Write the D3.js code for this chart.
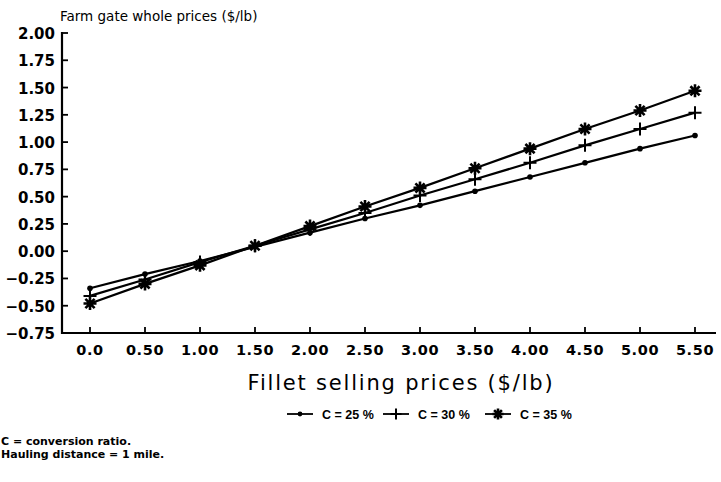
<!DOCTYPE html>
<html>
<head>
<meta charset="utf-8">
<script src="https://cdn.jsdelivr.net/npm/d3@7"></script>
<style>
  body { margin: 0; background: #fff; }
  text { font-family: "DejaVu Sans", Verdana, sans-serif; fill: #000; }
</style>
</head>
<body>
<div id="chart"></div>
<script>
// Data
const prices = [0, 0.5, 1, 1.5, 2, 2.5, 3, 3.5, 4, 4.5, 5, 5.5];
const xTickLabels = ["0.0", "0.50", "1.00", "1.50", "2.00", "2.50", "3.00", "3.50", "4.00", "4.50", "5.00", "5.50"];
const yTicks = [2.00, 1.75, 1.50, 1.25, 1.00, 0.75, 0.50, 0.25, 0.00, -0.25, -0.50, -0.75];
const c25 = [-0.34, -0.21, -0.09, 0.04, 0.17, 0.30, 0.42, 0.55, 0.68, 0.81, 0.94, 1.06];
const c30 = [-0.41, -0.26, -0.10, 0.05, 0.20, 0.35, 0.51, 0.66, 0.81, 0.97, 1.12, 1.27];
const c35 = [-0.48, -0.30, -0.13, 0.05, 0.23, 0.41, 0.58, 0.76, 0.94, 1.12, 1.29, 1.47];
const seriesNames = ["C = 25 %", "C = 30 %", "C = 35 %"];
const markers = ["dot", "plus", "star"];

const W = 721, H = 482;
const svg = d3.select("#chart").append("svg")
    .attr("width", W).attr("height", H);

const x = d3.scaleLinear().domain([0, 5.5]).range([90, 695]);
const y = d3.scaleLinear().domain([-0.75, 2.0]).range([333, 33]);
const axisLeftX = 62;

// Y axis
svg.append("line")
    .attr("x1", axisLeftX).attr("x2", axisLeftX)
    .attr("y1", y(2.0) - 1).attr("y2", y(-0.75) + 1)
    .attr("stroke", "#000").attr("stroke-width", 2.2);
svg.selectAll(".ytick").data(yTicks).enter().append("line")
    .attr("x1", axisLeftX).attr("x2", axisLeftX + 6)
    .attr("y1", d => y(d)).attr("y2", d => y(d))
    .attr("stroke", "#000").attr("stroke-width", 1.8);
svg.selectAll(".ylab").data(yTicks).enter().append("text")
    .attr("x", axisLeftX - 7).attr("y", d => y(d) + 6)
    .attr("text-anchor", "end")
    .attr("font-size", 15).attr("font-weight", "bold")
    .text(d => d3.format(".2f")(d));

// X axis
svg.append("line")
    .attr("x1", axisLeftX - 1).attr("x2", 716)
    .attr("y1", y(-0.75)).attr("y2", y(-0.75))
    .attr("stroke", "#000").attr("stroke-width", 2.2);
svg.selectAll(".xtick").data(prices).enter().append("line")
    .attr("x1", d => x(d)).attr("x2", d => x(d))
    .attr("y1", y(-0.75)).attr("y2", y(-0.75) - 6)
    .attr("stroke", "#000").attr("stroke-width", 1.8);
svg.selectAll(".xlab").data(prices).enter().append("text")
    .attr("x", d => x(d)).attr("y", 355)
    .attr("text-anchor", "middle")
    .attr("font-size", 14.5).attr("font-weight", "bold")
    .attr("letter-spacing", 0.6)
    .text((d, i) => xTickLabels[i]);

// Titles
svg.append("text")
    .attr("x", 60).attr("y", 21)
    .attr("font-size", 13.5)
    .text("Farm gate whole prices ($/lb)");
svg.append("text")
    .attr("x", 401).attr("y", 390)
    .attr("text-anchor", "middle")
    .attr("font-size", 21)
    .attr("letter-spacing", 1.8)
    .text("Fillet selling prices ($/lb)");

// Marker drawing
function drawMarker(g, type, cx, cy, s) {
    if (type === "dot") {
        g.append("circle").attr("cx", cx).attr("cy", cy).attr("r", 2.8 * s).attr("fill", "#000");
    } else if (type === "plus") {
        const r = 6.5 * s;
        g.append("path")
            .attr("d", `M${cx - r},${cy}H${cx + r}M${cx},${cy - r}V${cy + r}`)
            .attr("stroke", "#000").attr("stroke-width", 2);
    } else {
        const r = 6.5 * s;
        let d = "";
        for (let k = 0; k < 4; k++) {
            const a = k * Math.PI / 4;
            d += `M${cx - r * Math.cos(a)},${cy - r * Math.sin(a)}L${cx + r * Math.cos(a)},${cy + r * Math.sin(a)}`;
        }
        g.append("path").attr("d", d).attr("stroke", "#000").attr("stroke-width", 2.6);
    }
}

// Lines
const lineGen = d3.line().x((d, i) => x(prices[i])).y(d => y(d));
[c25, c30, c35].forEach((vals, si) => {
    const g = svg.append("g");
    g.append("path").datum(vals)
        .attr("d", lineGen)
        .attr("fill", "none").attr("stroke", "#000").attr("stroke-width", 2.2);
    vals.forEach((v, i) => drawMarker(g, markers[si], x(prices[i]), y(v), 1));
});

// Legend
const legendX = [287, 383, 485];
seriesNames.forEach((name, i) => {
    const g = svg.append("g");
    const lx = legendX[i], ly = 414;
    g.append("line").attr("x1", lx).attr("x2", lx + 26).attr("y1", ly).attr("y2", ly)
        .attr("stroke", "#000").attr("stroke-width", 1.8);
    drawMarker(g, markers[i], lx + 13, ly, 0.85);
    g.append("text").attr("x", lx + 35).attr("y", ly + 4.5)
        .style("font-family", "'Liberation Sans', Arial, sans-serif")
        .attr("font-size", 12.5).attr("font-weight", "bold")
        .text(name);
});

// Footnotes
svg.append("text").attr("x", 1).attr("y", 445)
    .attr("font-size", 11).attr("font-weight", "bold")
    .text("C = conversion ratio.");
svg.append("text").attr("x", 1).attr("y", 458)
    .attr("font-size", 11).attr("font-weight", "bold")
    .text("Hauling distance = 1 mile.");
</script>
</body>
</html>
